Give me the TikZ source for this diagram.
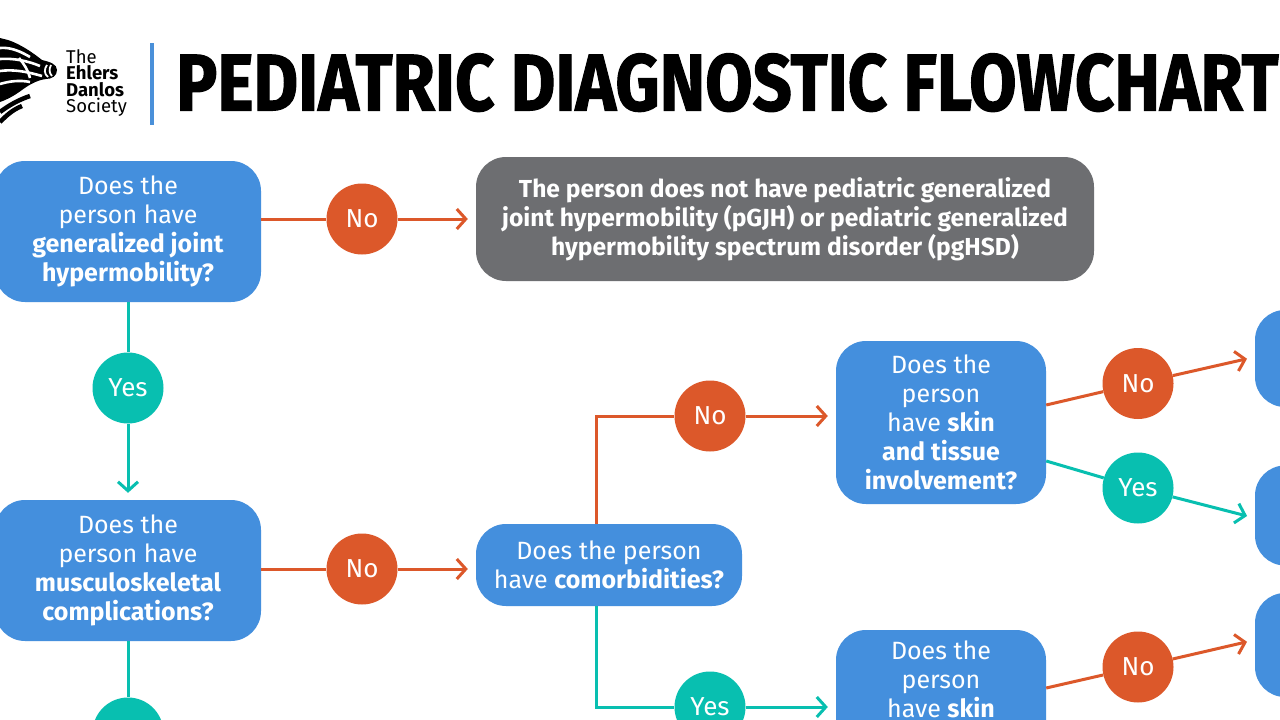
\documentclass[tikz,border=0pt]{standalone}
\usepackage{fontspec}
\setmainfont{Fira Sans}
\IfFontExistsTF{FiraSans-Heavy.otf}
  {\newfontfamily\titlefont{FiraSans-Heavy.otf}}
  {\IfFontExistsTF{Fira Sans Heavy}
    {\newfontfamily\titlefont{Fira Sans Heavy}}
    {\newfontfamily\titlefont{Fira Sans}[UprightFont=* Bold, UprightFeatures={FakeBold=1.5}]}}
\usepackage{graphicx}
\usetikzlibrary{arrows.meta,calc}
\definecolor{boxblue}{HTML}{448FDD}
\definecolor{noorange}{HTML}{DC582A}
\definecolor{yesteal}{HTML}{08BFB0}
\definecolor{greybox}{HTML}{6D6E71}
\definecolor{barblue}{HTML}{4A90D9}
\tikzset{
  qbox/.style={fill=boxblue, rounded corners=30pt, text=white, align=center,
    font=\fontsize{25}{29}\selectfont, inner sep=0pt},
  qtext/.style={text=white, align=center, font=\fontsize{25}{29}\selectfont, inner sep=0pt},
  gbox/.style={fill=greybox, rounded corners=30pt, text=white, align=center,
    font=\fontsize{24.6}{29}\selectfont\bfseries, inner sep=0pt},
  circ/.style={circle, minimum size=71pt, inner sep=0pt, text=white,
    font=\fontsize{26}{29}\selectfont},
  nocirc/.style={circ, fill=noorange},
  yescirc/.style={circ, fill=yesteal},
  noline/.style={draw=noorange, line width=3pt},
  yesline/.style={draw=yesteal, line width=3pt},
  tip/.style={-{Straight Barb[length=9pt,width=20pt]}, shorten >=8pt},
  wstripe/.style={draw=white, line width=2.6pt},
  bstripe/.style={line width=4.5pt},
  logoline/.style={anchor=base west, inner sep=0pt, font=\fontsize{18.5}{18}\selectfont}
}
\begin{document}
\begin{tikzpicture}[x=1pt,y=-1pt]
\useasboundingbox (0,0) rectangle (1280,720);
\clip (0,0) rectangle (1280,720);
\fill[white] (0,0) rectangle (1280,720);

% logo zebra
\fill (0,38) -- (8,40) .. controls (20,44) and (32,52) .. (42,60)
  .. controls (50,62) and (57,64) .. (57,70) .. controls (57,76) and (52,79) .. (46,79)
  .. controls (38,80) and (30,84) .. (22,90) .. controls (14,96) and (6,100) .. (0,102) -- cycle;
\draw[wstripe] (0,48) .. controls (10,47) and (20,51) .. (30,57);
\draw[wstripe] (0,59) .. controls (14,58) and (28,61) .. (40,66);
\draw[wstripe] (0,71) .. controls (14,69) and (28,72) .. (42,76);
\draw[wstripe] (0,84) .. controls (10,81) and (20,80) .. (30,82);
\draw[wstripe] (19,58) .. controls (24,64) and (28,70) .. (30,78);
\draw[wstripe, line width=1.8pt] (47,65) .. controls (44,69) and (44,74) .. (48,77);
\draw[wstripe, line width=1.8pt] (51,65) .. controls (49,69) and (49,73) .. (52,76);
\draw[bstripe] (0,112) .. controls (8,106) and (18,100) .. (30,96);
\draw[bstripe] (0,122) .. controls (6,116) and (12,110) .. (22,106);
\node[logoline] (logo1) at (66,63) {The};
\node[logoline] (logo2) at (66,79.5) {\textbf{Ehlers}};
\node[logoline] (logo3) at (66,96) {\textbf{Danlos}};
\node[logoline] (logo4) at (66,112) {Society};
\fill[barblue] (150,43) rectangle (154,125);

% title
\node[anchor=south west, inner sep=0pt] (title) at (176,112)
  {\resizebox{1102pt}{57pt}{\titlefont PEDIATRIC DIAGNOSTIC FLOWCHART}};

% boxes
\node[qbox, minimum width=266pt, minimum height=141pt] (box1) at (128,231.5)
  {Does the\\person have\\\textbf{generalized joint}\\\textbf{hypermobility?}};
\node[gbox, minimum width=618pt, minimum height=124pt] (grey) at (785,219)
  {The person does not have pediatric generalized\\joint hypermobility (pGJH) or pediatric generalized\\hypermobility spectrum disorder (pgHSD)};
\node[qbox, minimum width=266pt, minimum height=141pt] (box2) at (128,570.5)
  {Does the\\person have\\\textbf{musculoskeletal}\\\textbf{complications?}};
\node[qbox, minimum width=266pt, minimum height=82pt] (box3) at (609,565)
  {Does the person\\have \textbf{comorbidities?}};
\node[qbox, minimum width=210pt, minimum height=163pt] (box4) at (941,422.5)
  {Does the\\person\\have \textbf{skin}\\\textbf{and tissue}\\\textbf{involvement?}};
\node[qbox, minimum width=210pt, minimum height=163pt] (box5) at (941,711.5) {};
\node[qtext, anchor=north] (box5text) at ($(box5.north)+(0,11)$)
  {Does the\\person\\have \textbf{skin}};
\node[qbox, minimum width=80pt, minimum height=97pt] (r1) at (1295,358.5) {};
\node[qbox, minimum width=80pt, minimum height=100pt] (r2) at (1295,515.5) {};
\node[qbox, minimum width=80pt, minimum height=104pt] (r3) at (1295,645) {};

% decision circles
\node[nocirc] (no1) at (362,219) {No};
\node[yescirc] (yes1) at (128,388) {Yes};
\node[nocirc] (no2) at (362,569) {No};
\node[yescirc] (yes2) at (128,733) {Yes};
\node[nocirc] (no3) at (710,416) {No};
\node[yescirc] (yes3) at (710,707) {Yes};
\node[nocirc] (no4) at (1138,383.5) {No};
\node[yescirc] (yes4) at (1138,488) {Yes};
\node[nocirc] (no5) at (1138,667) {No};

% anchor points
\coordinate (b3top) at ($(box3.north west)+(121,0)$);
\coordinate (b3bot) at ($(box3.south west)+(121,0)$);
\coordinate (b4no) at ($(box4.east)+(0,-17.5)$);
\coordinate (b4yes) at ($(box4.east)+(0,38.5)$);
\coordinate (b5no) at ($(box5.east)+(0,-23.5)$);
\coordinate (r1in) at ($(r1.west)+(0,-1.5)$);
\coordinate (r2in) at ($(r2.west)+(0,2.5)$);
\coordinate (r3in) at ($(r3.west)+(0,-5)$);

% connectors
\draw[noline] (no1 -| box1.east) -- (no1);
\draw[noline, tip] (no1) -- (grey.west |- no1);
\draw[yesline] (box1.south) -- (yes1);
\draw[yesline, tip, shorten >=7pt] (yes1) -- (box2.north);
\draw[noline] (no2 -| box2.east) -- (no2);
\draw[noline, tip] (no2) -- (box3.west |- no2);
\draw[yesline] (box2.south) -- (yes2);
\draw[noline] (b3top) |- (no3);
\draw[noline, tip] (no3) -- (box4.west |- no3);
\draw[yesline] (b3bot) |- (yes3);
\draw[yesline, tip] (yes3) -- (box5.west |- yes3);
\draw[noline] (b4no) -- (no4);
\draw[noline, tip] (no4) -- (r1in);
\draw[yesline] (b4yes) -- (yes4);
\draw[yesline, tip] (yes4) -- (r2in);
\draw[noline] (b5no) -- (no5);
\draw[noline, tip] (no5) -- (r3in);
\end{tikzpicture}
\end{document}
